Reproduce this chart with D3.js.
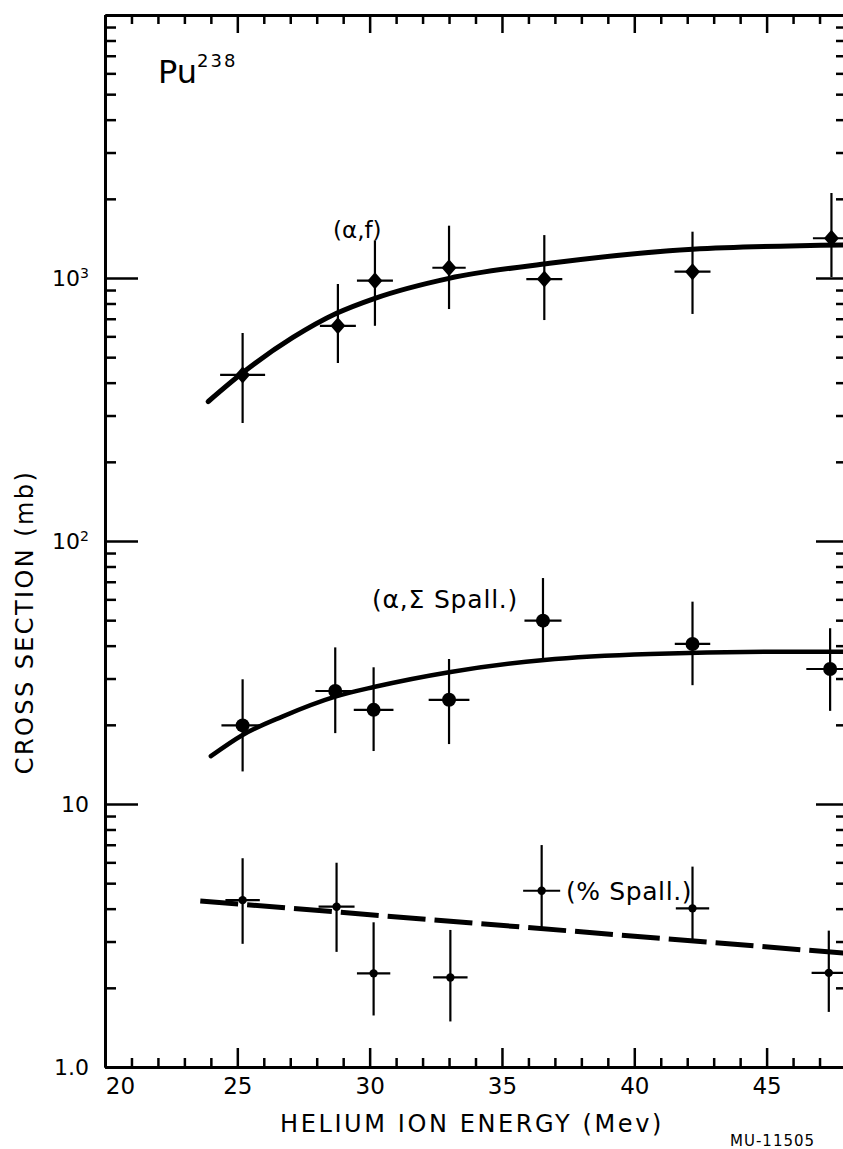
<!DOCTYPE html>
<html>
<head>
<meta charset="utf-8">
<script src="https://cdn.jsdelivr.net/npm/d3@7"></script>
<style>
  body { margin: 0; background: #fff; }
  svg text { font-family: "DejaVu Sans", sans-serif; fill: #000; }
</style>
</head>
<body>
<svg id="chart" width="843" height="1149"></svg>
<script>
//data
var fissionE  = [25.2, 28.8, 30.2, 33.0, 36.6, 42.2, 47.45];
var fissionXS = [428, 658, 977, 1094, 991, 1057, 1416];
var fissionLo = [281, 475, 658, 762, 692, 730, 1009];
var fissionHi = [618, 949, 1390, 1581, 1456, 1500, 2105];
var fissionDE = [0.85, 0.68, 0.68, 0.63, 0.68, 0.68, 0.7];

var spallE  = [25.2, 28.7, 30.15, 33.0, 36.55, 42.2, 47.4];
var spallXS = [19.9, 26.9, 22.8, 24.9, 49.8, 40.6, 32.6];
var spallLo = [13.3, 18.6, 15.9, 16.9, 35.0, 28.3, 22.6];
var spallHi = [29.8, 39.4, 33.1, 35.6, 72.3, 58.8, 46.6];
var spallDE = [0.8, 0.75, 0.75, 0.77, 0.7, 0.67, 0.9];

var pctE  = [25.2, 28.75, 30.15, 33.05, 36.5, 42.2, 47.35];
var pctXS = [4.31, 4.07, 2.27, 2.19, 4.68, 4.01, 2.28];
var pctLo = [2.94, 2.74, 1.57, 1.49, 3.34, 3.02, 1.62];
var pctHi = [6.22, 5.98, 3.55, 3.32, 6.98, 5.78, 3.30];
var pctDE = [0.65, 0.68, 0.63, 0.65, 0.7, 0.63, 0.65];

//hand-drawn fit curves
var fissionFitE  = [23.9, 25.2, 27.1, 28.75, 30.2, 33.0, 36.8, 42.2, 47.9];
var fissionFitXS = [339, 436, 594, 734, 837, 997, 1137, 1286, 1335];
var spallFitE  = [24.0, 25.2, 26.7, 28.7, 30.2, 33.0, 36.6, 40.6, 45.5, 47.9];
var spallFitXS = [15.2, 18.3, 21.5, 25.6, 27.9, 31.7, 35.3, 37.2, 37.9, 37.9];
var pctFitE  = [23.6, 47.9];
var pctFitXS = [4.28, 2.71];

var X_TICKS = [20, 25, 30, 35, 40, 45];
var Y_TICKS = [1, 10, 100, 1000];
var Y_LABELS = ["1.0", "10", "10", "10"];
var Y_EXP = ["", "", "2", "3"];

var LEFT = 105, RIGHT = 846, TOP = 15, BOTTOM = 1067;

var svg = d3.select("#chart");
svg.append("rect").attr("width", 843).attr("height", 1149).attr("fill", "#fff");

var xScale = d3.scaleLinear().domain([20, 48]).range([LEFT, RIGHT]);
var yScale = d3.scaleLog().domain([1, 10000]).range([BOTTOM, TOP]);

var xMinor = d3.range(20, 49, 1).filter(d => d % 5 != 0);
var yAll = yScale.ticks();
var yMinor = yAll.filter(d => Y_TICKS.indexOf(d) < 0 && d != 10000);

function styleAxis(g) {
    g.select(".domain").attr("stroke", "#000").attr("stroke-width", 3);
    g.selectAll(".tick line").attr("stroke", "#000").attr("stroke-width", 2.5);
}

// bottom axis
var bottomMajor = svg.append("g").attr("transform", `translate(0,${BOTTOM})`)
    .call(d3.axisBottom(xScale).tickValues(X_TICKS).tickSizeInner(-19).tickSizeOuter(0).tickPadding(11))
    .call(styleAxis);
bottomMajor.selectAll("text")
    .attr("font-size", 23)
    .attr("dx", d => d == 20 ? 15 : 0);
svg.append("g").attr("transform", `translate(0,${BOTTOM})`)
    .call(d3.axisBottom(xScale).tickValues(xMinor).tickSizeInner(-9).tickSizeOuter(0).tickFormat(""))
    .call(styleAxis);

// top axis
svg.append("g").attr("transform", `translate(0,${TOP})`)
    .call(d3.axisTop(xScale).tickValues(X_TICKS.concat([20])).tickSizeInner(-18).tickSizeOuter(0).tickFormat(""))
    .call(styleAxis);
svg.append("g").attr("transform", `translate(0,${TOP})`)
    .call(d3.axisTop(xScale).tickValues(xMinor).tickSizeInner(-9).tickSizeOuter(0).tickFormat(""))
    .call(styleAxis);

// left axis
var leftMajor = svg.append("g").attr("transform", `translate(${LEFT},0)`)
    .call(d3.axisLeft(yScale).tickValues(Y_TICKS).tickSizeInner(-33).tickSizeOuter(0).tickPadding(16)
        .tickFormat((d, i) => Y_LABELS[i]))
    .call(styleAxis);
leftMajor.selectAll("text")
    .attr("font-size", 22)
    .each(function(d, i) {
        if (Y_EXP[i]) {
            d3.select(this).append("tspan")
                .attr("dy", "-0.55em")
                .attr("font-size", 14)
                .text(Y_EXP[i]);
        }
    });
svg.append("g").attr("transform", `translate(${LEFT},0)`)
    .call(d3.axisLeft(yScale).tickValues(yMinor).tickSizeInner(-11).tickSizeOuter(0).tickFormat(""))
    .call(styleAxis);

// right axis
svg.append("g").attr("transform", `translate(${RIGHT},0)`)
    .call(d3.axisRight(yScale).tickValues(Y_TICKS).tickSizeInner(-30).tickSizeOuter(0).tickFormat(""))
    .call(styleAxis);
svg.append("g").attr("transform", `translate(${RIGHT},0)`)
    .call(d3.axisRight(yScale).tickValues(yMinor).tickSizeInner(-10).tickSizeOuter(0).tickFormat(""))
    .call(styleAxis);

// fit curves
function makeLine(curve) {
    return d3.line().x(d => xScale(d[0])).y(d => yScale(d[1])).curve(curve);
}
svg.append("path")
    .datum(d3.zip(fissionFitE, fissionFitXS))
    .attr("fill", "none").attr("stroke", "#000").attr("stroke-width", 5)
    .attr("stroke-linecap", "round")
    .attr("d", makeLine(d3.curveMonotoneX));
svg.append("path")
    .datum(d3.zip(spallFitE, spallFitXS))
    .attr("fill", "none").attr("stroke", "#000").attr("stroke-width", 4.5)
    .attr("stroke-linecap", "round")
    .attr("d", makeLine(d3.curveMonotoneX));
svg.append("path")
    .datum(d3.zip(pctFitE, pctFitXS))
    .attr("fill", "none").attr("stroke", "#000").attr("stroke-width", 5)
    .attr("stroke-dasharray", "38,9")
    .attr("d", makeLine(d3.curveLinear));

// error bars and markers
function drawSeries(E, XS, lo, hi, dE, marker) {
    let data = E.map((e, i) => ({e: e, v: XS[i], lo: lo[i], hi: hi[i], de: dE[i]}));
    let g = svg.append("g");
    g.selectAll(".vbar").data(data).enter().append("line")
        .attr("x1", d => xScale(d.e)).attr("x2", d => xScale(d.e))
        .attr("y1", d => yScale(d.lo)).attr("y2", d => yScale(d.hi))
        .attr("stroke", "#000").attr("stroke-width", 2.2);
    g.selectAll(".hbar").data(data).enter().append("line")
        .attr("x1", d => xScale(d.e - d.de)).attr("x2", d => xScale(d.e + d.de))
        .attr("y1", d => yScale(d.v)).attr("y2", d => yScale(d.v))
        .attr("stroke", "#000").attr("stroke-width", 2.2);
    if (marker == "diamond") {
        g.selectAll(".mk").data(data).enter().append("path")
            .attr("d", d3.symbol(d3.symbolSquare, 144)())
            .attr("transform", d => `translate(${xScale(d.e)},${yScale(d.v)}) scale(0.88,1) rotate(45)`)
            .attr("fill", "#000");
    } else {
        g.selectAll(".mk").data(data).enter().append("circle")
            .attr("cx", d => xScale(d.e)).attr("cy", d => yScale(d.v))
            .attr("r", marker == "big" ? 7 : 4.2)
            .attr("fill", "#000");
    }
}
drawSeries(fissionE, fissionXS, fissionLo, fissionHi, fissionDE, "diamond");
drawSeries(spallE, spallXS, spallLo, spallHi, spallDE, "big");
drawSeries(pctE, pctXS, pctLo, pctHi, pctDE, "small");

// curve labels
svg.append("text").attr("x", 333).attr("y", 238).attr("font-size", 23).text("(α,f)");
svg.append("text").attr("x", 372).attr("y", 608).attr("font-size", 25).attr("letter-spacing", 0.8).text("(α,Σ Spall.)");
svg.append("text").attr("x", 566).attr("y", 900).attr("font-size", 25).attr("letter-spacing", 0.6).text("(% Spall.)");

// title
var title = svg.append("text").attr("x", 158).attr("y", 83).attr("font-size", 32).text("Pu");
title.append("tspan").attr("dy", -16).attr("font-size", 18).attr("letter-spacing", 2).text("238");

// axis titles
svg.append("text")
    .attr("x", 472).attr("y", 1132)
    .attr("text-anchor", "middle").attr("font-size", 24).attr("letter-spacing", 2.6)
    .text("HELIUM ION ENERGY (Mev)");
svg.append("text")
    .attr("transform", "translate(33,622) rotate(-90)")
    .attr("text-anchor", "middle").attr("font-size", 24).attr("letter-spacing", 2.4)
    .text("CROSS SECTION (mb)");
svg.append("text").attr("x", 730).attr("y", 1146).attr("font-size", 15).attr("letter-spacing", 1).text("MU-11505");
</script>
</body>
</html>
